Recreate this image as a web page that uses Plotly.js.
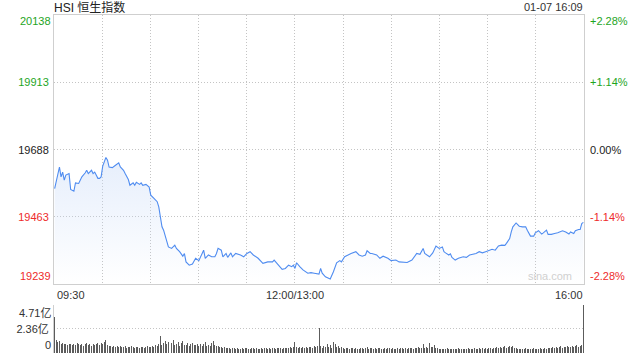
<!DOCTYPE html>
<html>
<head>
<meta charset="utf-8">
<script src="https://cdn.plot.ly/plotly-3.0.1.min.js"></script>
<style>html,body{margin:0;padding:0;background:#fff;}#chart{width:640px;height:360px;}</style>
</head>
<body>
<div id="chart"></div>
<script>
// ---- data (minutes since 09:30, lunch break compressed) ----
const priceMinutes = [
  0,3,4,5,6,7,9,10,12,13,
  15,17,19,20,21,23,24,25,27,28,
  29,30,32,33,34,36,38,40,41,43,
  44,46,47,49,50,51,53,54,55,57,
  59,60,62,64,65,66,67,68,70,71,
  73,75,76,78,80,81,82,84,86,88,
  90,91,93,94,96,98,100,101,102,104,
  105,107,108,110,111,113,116,118,120,122,
  124,127,130,133,136,137,139,142,144,146,
  148,149,150,151,153,155,158,160,162,165,
  166,167,169,171,172,174,176,178,179,181,
  183,185,188,190,192,194,195,197,198,201,
  203,205,208,210,213,215,220,223,226,228,
  230,231,234,236,238,240,242,243,244,246,
  247,248,250,252,255,257,259,263,265,267,
  269,271,273,275,277,279,281,282,284,285,
  286,288,290,292,294,295,297,299,300,302,
  304,305,307,308,310,312,314,317,319,321,
  322,324,325,327,328,329,330
];
const prices = [
  19558,19630,19597,19613,19586,19603,19608,19555,19549,19577,
  19575,19597,19610,19619,19608,19619,19608,19613,19592,19592,
  19597,19633,19662,19653,19630,19628,19636,19644,19630,19619,
  19608,19588,19569,19577,19569,19579,19572,19577,19569,19572,
  19563,19536,19525,19514,19497,19469,19430,19419,19375,19363,
  19358,19369,19358,19347,19332,19341,19313,19302,19306,19325,
  19317,19330,19352,19325,19336,19330,19330,19341,19358,19352,
  19330,19341,19328,19343,19330,19341,19336,19330,19341,19347,
  19336,19325,19308,19313,19313,19319,19308,19288,19291,19302,
  19297,19302,19291,19310,19297,19286,19275,19277,19275,19272,
  19291,19275,19263,19260,19256,19280,19310,19317,19313,19330,
  19336,19341,19347,19336,19332,19336,19350,19341,19341,19336,
  19325,19332,19325,19317,19319,19313,19311,19319,19341,19338,
  19358,19341,19330,19343,19366,19358,19363,19347,19343,19336,
  19340,19328,19319,19325,19330,19328,19336,19341,19347,19343,
  19347,19350,19355,19352,19366,19369,19368,19375,19391,19413,
  19430,19443,19432,19430,19430,19419,19399,19399,19410,19417,
  19406,19410,19419,19405,19405,19408,19410,19417,19413,19406,
  19413,19408,19417,19421,19421,19441,19445
];
// volume per minute, in 亿
const volumes = [
  3.50,1.25,1.10,1.15,0.90,0.95,0.85,0.90,0.80,0.85,
  0.90,0.80,0.85,0.75,0.95,0.85,0.80,0.90,0.70,0.85,
  0.95,0.80,0.85,0.70,0.90,0.75,0.85,0.95,0.80,1.00,
  0.85,1.10,1.30,0.75,0.70,0.65,0.60,0.70,0.55,0.65,
  0.60,0.70,0.55,0.60,0.65,0.50,0.60,0.55,0.65,0.60,
  0.50,0.55,0.60,0.45,0.55,0.60,0.50,0.55,0.65,0.60,
  0.55,0.70,0.60,0.75,0.65,0.85,1.65,0.80,0.95,1.20,
  0.90,1.10,0.85,1.00,1.25,0.80,0.90,1.05,0.70,0.95,
  1.15,0.80,0.75,0.95,0.70,0.85,1.00,0.75,0.80,0.90,
  0.70,0.85,0.65,0.90,1.05,0.70,0.80,0.65,0.95,1.20,
  0.75,0.65,0.70,0.60,0.55,0.50,0.55,0.45,0.50,0.45,
  0.40,0.45,0.50,0.40,0.45,0.35,0.40,0.45,0.40,0.50,
  0.45,0.40,0.35,0.45,0.50,0.40,0.45,0.40,0.35,0.45,
  0.40,0.45,0.50,0.40,0.45,0.40,0.45,0.50,0.40,0.45,
  0.50,0.45,0.40,0.45,0.50,0.45,0.50,0.55,0.45,0.60,
  1.05,0.55,0.45,0.60,0.50,0.55,0.45,0.60,0.50,0.55,
  0.60,0.50,0.65,0.55,0.70,2.45,0.65,0.45,0.70,0.55,
  0.85,0.60,0.75,0.50,1.05,0.90,0.60,0.70,0.45,0.55,
  0.45,0.40,0.50,0.45,0.40,0.45,0.50,0.40,0.45,0.40,
  0.35,0.45,0.50,0.40,0.45,0.55,0.40,0.45,0.50,0.40,
  0.45,0.40,0.50,0.45,0.40,0.35,0.45,0.40,0.50,0.45,
  0.40,0.45,0.35,0.40,0.45,0.40,0.50,0.45,0.40,0.45,
  0.40,0.45,0.50,0.45,0.40,0.50,0.45,0.55,0.50,0.45,
  0.85,0.45,0.55,0.50,0.95,0.55,0.60,0.80,0.50,0.45,
  0.40,0.35,0.40,0.35,0.40,0.45,0.35,0.40,0.35,0.40,
  0.35,0.40,0.45,0.35,0.40,0.35,0.40,0.35,0.45,0.40,
  0.35,0.40,0.45,0.40,0.35,0.45,0.40,0.50,0.40,0.45,
  0.40,0.50,0.45,0.40,0.50,0.45,0.55,0.50,0.60,0.45,
  0.55,0.65,0.50,0.60,0.70,0.55,0.65,0.50,0.45,0.40,
  0.35,0.40,0.35,0.40,0.45,0.35,0.40,0.35,0.40,0.45,
  0.40,0.35,0.40,0.45,0.40,0.35,0.45,0.40,0.50,0.45,
  0.50,0.55,0.45,0.60,0.50,0.55,0.65,0.50,0.60,0.55,
  0.65,0.55,0.60,0.70,0.55,0.65,0.75,0.60,0.70,0.80,
  4.71
];
const volumeMinutes = volumes.map((v, i) => i);

const prevClose = 19688;
const priceMin = 19239, priceMax = 20138;
const priceTickVals = [19913, 19688, 19463];
const priceTickText = ['19913', '19688', '19463'];
const pctTickText = ['+1.14%', '0.00%', '-1.14%'];
const tickColors = ['#1ea51e', '#222222', '#ee2b2b'];
const priceEdgeLabels = ['20138', '19239'];
const pctEdgeLabels = ['+2.28%', '-2.28%'];
const edgeColors = ['#1ea51e', '#ee2b2b'];
const gridMinutes = [30, 60, 90, 120, 150, 180, 210, 240, 270, 300];
const xLabelMinutes = [0, 150, 330];
const xLabels = ['09:30', '12:00/13:00', '16:00'];
const volMax = 4.71, volMid = 2.36;
const volLabels = ['4.71亿', '2.36亿', '0'];
const titleText = 'HSI 恒生指数';
const stampText = '01-07 16:09';

// ---- chart ----
const FONT = '"Liberation Sans", Arial, "Noto Sans CJK SC", sans-serif';
const GRID = '#c4c4c4', FRAME = '#cfcfcf', DOTS = '1px,2px';
const mainBottom = (353 - 284) / 338;
const volTop = (353 - 305) / 338;
const xr = [-0.4, 330.4];

const color = (t, c) => '<span style="color:' + c + '">' + t + '</span>';

const traces = [
  {
    x: priceMinutes, y: prices, xaxis: 'x', yaxis: 'y',
    type: 'scatter', mode: 'lines',
    line: {color: '#4f8cf0', width: 1.1},
    fill: 'tozeroy',
    fillgradient: {type: 'vertical', start: priceMin, stop: 19660,
      colorscale: [[0, 'rgba(200,218,248,0)'], [1, 'rgba(200,218,248,0.45)']]},
    hoverinfo: 'skip'
  },
  {
    x: priceMinutes, y: prices, xaxis: 'x', yaxis: 'y2',
    type: 'scatter', mode: 'lines', line: {width: 0, color: 'rgba(0,0,0,0)'},
    hoverinfo: 'skip'
  },
  {
    x: volumeMinutes, y: volumes, xaxis: 'x2', yaxis: 'y3',
    type: 'bar', width: 0.62, marker: {color: '#5c5c5c', line: {width: 0}},
    hoverinfo: 'skip'
  }
];

const annotations = [];
// x labels
const xAnch = ['left', 'center', 'right'];
const xSh = [0, 0, 2];
xLabels.forEach((t, i) => annotations.push({
  text: t, xref: 'x', x: xLabelMinutes[i], xanchor: xAnch[i], xshift: xSh[i],
  yref: 'paper', y: mainBottom, yanchor: 'top', yshift: -3,
  showarrow: false, font: {size: 11, color: '#333'}
}));
// edge price labels
[priceMax, priceMin].forEach((v, i) => {
  annotations.push({
    text: priceEdgeLabels[i], xref: 'paper', x: 0, xanchor: 'right', xshift: -1,
    yref: 'y', y: v, yanchor: i === 0 ? 'top' : 'bottom', yshift: i === 0 ? 2 : 0,
    showarrow: false, font: {size: 11, color: edgeColors[i]}
  });
  annotations.push({
    text: pctEdgeLabels[i], xref: 'paper', x: 1, xanchor: 'left', xshift: 4,
    yref: 'y', y: v, yanchor: i === 0 ? 'top' : 'bottom', yshift: i === 0 ? 2 : 0,
    showarrow: false, font: {size: 11, color: edgeColors[i]}
  });
});
// volume edge labels
annotations.push({text: volLabels[0], xref: 'paper', x: 0, xanchor: 'right', xshift: -1,
  yref: 'y3', y: volMax, yanchor: 'top', showarrow: false, font: {size: 11, color: '#333'}});
annotations.push({text: volLabels[2], xref: 'paper', x: 0, xanchor: 'right', xshift: -1,
  yref: 'y3', y: 0, yanchor: 'bottom', showarrow: false, font: {size: 11, color: '#333'}});
// date stamp
annotations.push({text: stampText, xref: 'paper', x: 1, xanchor: 'right', xshift: 1,
  yref: 'paper', y: 1, yanchor: 'bottom', showarrow: false, font: {size: 11, color: '#333'}});
// watermark
annotations.push({text: 'sina.com', xref: 'paper', x: 1, xanchor: 'right', xshift: -10,
  yref: 'y', y: priceMin, yanchor: 'bottom', showarrow: false, font: {size: 11, color: '#d0d0d0'}});

const layout = {
  width: 640, height: 360,
  margin: {l: 54, r: 56, t: 15, b: 7, pad: 0},
  paper_bgcolor: '#ffffff', plot_bgcolor: '#ffffff',
  showlegend: false,
  font: {family: FONT, size: 11, color: '#333'},
  title: {text: titleText, font: {size: 12, color: '#222', family: FONT},
    xref: 'paper', x: 0, xanchor: 'left', yref: 'container', y: 1 - 8 / 360, yanchor: 'middle'},
  bargap: 0,
  xaxis: {domain: [0, 1], anchor: 'y', range: xr, tickvals: gridMinutes, showticklabels: false,
    ticks: '', showgrid: true, gridcolor: GRID, griddash: DOTS, gridwidth: 1,
    showline: true, linecolor: FRAME, linewidth: 1, mirror: true, zeroline: false, fixedrange: true},
  yaxis: {domain: [mainBottom, 1], anchor: 'x', range: [priceMin, priceMax],
    tickvals: priceTickVals, ticktext: priceTickText.map((t, i) => color(t, tickColors[i])),
    ticks: '', ticklabelstandoff: 2, showgrid: true, gridcolor: GRID, griddash: DOTS,
    showline: true, linecolor: FRAME, linewidth: 1, mirror: true, zeroline: false, fixedrange: true},
  yaxis2: {overlaying: 'y', side: 'right', anchor: 'x', range: [priceMin, priceMax],
    tickvals: priceTickVals, ticktext: pctTickText.map((t, i) => color(t, tickColors[i])),
    ticks: '', ticklabelstandoff: 5, showgrid: false, showline: false, zeroline: false, fixedrange: true},
  xaxis2: {domain: [0, 1], anchor: 'y3', range: xr, showgrid: false, showticklabels: false,
    ticks: '', showline: false, zeroline: false, fixedrange: true},
  yaxis3: {domain: [0, volTop], anchor: 'x2', range: [0, volMax],
    tickvals: [volMid, volMax], ticktext: [volLabels[1], ''],
    ticks: '', ticklabelstandoff: 2, showgrid: true, gridcolor: GRID, griddash: DOTS,
    showline: true, linecolor: FRAME, linewidth: 1, zeroline: false, fixedrange: true},
  annotations: annotations
};

Plotly.newPlot('chart', traces, layout, {displayModeBar: false, staticPlot: true});
</script>
</body>
</html>
